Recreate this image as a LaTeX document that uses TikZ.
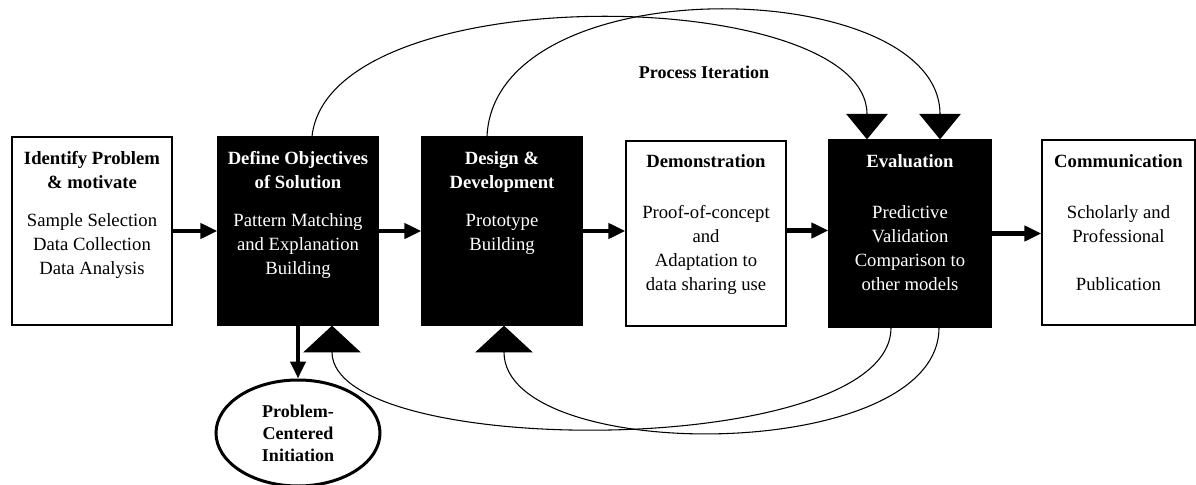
\documentclass[tikz,border=0pt]{standalone}
\usepackage{fontspec}
\setmainfont{Liberation Serif}
\usetikzlibrary{arrows.meta,shapes.geometric}

\tikzset{
  whitebox/.style={draw, line width=1pt, fill=white, minimum width=120pt, minimum height=141pt},
  blackbox/.style={whitebox, fill=black},
  boxtext/.style={font=\fontsize{14}{18}\selectfont, align=center, inner sep=0pt, anchor=north},
  bigarrow/.style={line width=3.5pt, -{Triangle[length=12.75pt, width=11.25pt]}},
  loopline/.style={line width=0.8pt, -{Triangle[length=19pt, width=31pt]}},
  backline/.style={line width=0.8pt, -{Triangle[length=20pt, width=43pt]}}
}

\begin{document}
\begin{tikzpicture}[x=0.75pt, y=-0.75pt]

\useasboundingbox (0,0) rectangle (1196,485);

% the six steps
\node [whitebox] (b1) at (92,231) {};
\node [blackbox] (b2) at (298,231) {};
\node [blackbox] (b3) at (502,231) {};
\node [whitebox, minimum height=138.75pt] (b4) at (706,233.5) {};
\node [blackbox, minimum width=121.5pt, minimum height=140.25pt] (b5) at (910,233.5) {};
\node [whitebox, minimum width=114.75pt, minimum height=138.75pt] (b6) at (1118.5,232.5) {};

\node [boxtext] (b1t) at ([yshift=-11.25pt]b1.north) {\textbf{Identify Problem}\\\textbf{\& motivate}\\[10.5pt]Sample Selection\\Data Collection\\Data Analysis};
\node [boxtext, text=white] (b2t) at ([yshift=-11.25pt]b2.north) {\textbf{Define Objectives}\\\textbf{of Solution}\\[10.5pt]Pattern Matching\\and Explanation\\Building};
\node [boxtext, text=white] (b3t) at ([yshift=-11.25pt]b3.north) {\textbf{Design \&}\\\textbf{Development}\\[10.5pt]Prototype\\Building};
\node [boxtext] (b4t) at ([yshift=-10.5pt]b4.north) {\textbf{Demonstration}\\[20.25pt]Proof-of-concept\\and\\Adaptation to\\data sharing use};
\node [boxtext, text=white] (b5t) at ([yshift=-11.25pt]b5.north) {\textbf{Evaluation}\\[20.25pt]Predictive\\Validation\\Comparison to\\other models};
\node [boxtext] (b6t) at ([yshift=-11.25pt]b6.north) {\textbf{Communication}\\[20.25pt]Scholarly and\\Professional\\[18pt]Publication};

\node [draw, ellipse, line width=2.25pt, minimum width=123pt, minimum height=79.5pt, align=center, inner sep=0pt, font=\fontsize{13.5}{16.5}\selectfont\bfseries] (pci) at (298,433) {Problem-\\Centered\\Initiation};

\node [font=\fontsize{13.5}{16}\selectfont\bfseries] (iter) at (704,72) {Process Iteration};

% main flow
\draw [bigarrow] (b1.east) -- (b1.east -| b2.west);
\draw [bigarrow] (b2.east) -- (b2.east -| b3.west);
\draw [bigarrow] (b3.east) -- (b3.east -| b4.west);
\draw [bigarrow] ([yshift=2.25pt]b4.east) -- ([yshift=2.25pt]b4.east -| b5.west);
\draw [bigarrow] (b5.east) -- (b5.east -| b6.west);
\draw [bigarrow] (b2.south) -- (pci.north);

% iteration loops
\draw [loopline] ([xshift=10.5pt]b2.north) .. controls (330,-25) and (867,-15) .. ([xshift=-32.25pt]b5.north);
\draw [loopline] ([xshift=-11.25pt]b3.north) .. controls (495,-35) and (940,-25) .. ([xshift=22.5pt]b5.north);
\draw [backline] ([xshift=-14.25pt]b5.south) .. controls (891,460) and (332,460) .. ([xshift=25.5pt]b2.south);
\draw [backline] ([xshift=21.75pt]b5.south) .. controls (939,465) and (504,465) .. ([xshift=1.5pt]b3.south);

\end{tikzpicture}
\end{document}
